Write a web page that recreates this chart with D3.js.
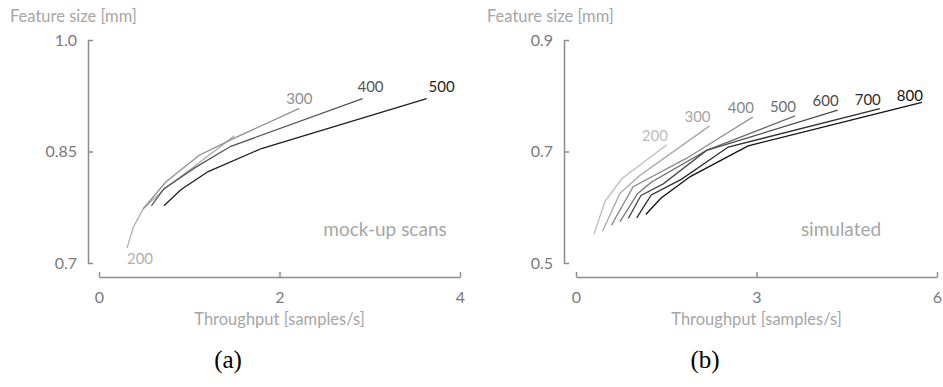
<!DOCTYPE html>
<html>
<head>
<meta charset="utf-8">
<script src="https://cdn.jsdelivr.net/npm/d3@7"></script>
<style>
  body { margin: 0; background: #fff; }
  svg { display: block; font-family: Lato, "Open Sans", sans-serif; }
</style>
</head>
<body>
<div id="chart"></div>
<script>
// panel (a): mock-up scans
const seriesA = ["200", "300", "400", "500"];
const xA = [
  [0.31, 0.38, 0.49, 0.73, 1.50],
  [0.49, 0.74, 1.11, 1.50, 2.22],
  [0.58, 0.72, 1.06, 1.46, 2.92],
  [0.72, 0.91, 1.21, 1.80, 3.63]
];
const yA = [
  [0.720, 0.748, 0.773, 0.800, 0.871],
  [0.773, 0.809, 0.845, 0.868, 0.908],
  [0.777, 0.800, 0.828, 0.857, 0.921],
  [0.777, 0.799, 0.823, 0.854, 0.921]
];
const xTicksA = [0, 2, 4];
const yTicksA = [0.7, 0.85, 1.0];
const yTickLabelsA = ["0.7", "0.85", "1.0"];

// panel (b): simulated
const seriesB = ["200", "300", "400", "500", "600", "700", "800"];
const xB = [
  [0.30, 0.48, 0.76, 1.51],
  [0.44, 0.73, 1.06, 2.22],
  [0.59, 0.95, 1.84, 2.94],
  [0.73, 1.02, 1.25, 2.17, 3.64],
  [0.87, 1.08, 1.45, 2.17, 4.35],
  [1.01, 1.25, 1.75, 2.53, 5.05],
  [1.16, 1.41, 1.90, 2.86, 5.75]
];
const yB = [
  [0.552, 0.610, 0.651, 0.712],
  [0.557, 0.625, 0.657, 0.746],
  [0.568, 0.637, 0.688, 0.762],
  [0.574, 0.624, 0.645, 0.702, 0.764],
  [0.580, 0.621, 0.642, 0.702, 0.774],
  [0.581, 0.622, 0.650, 0.708, 0.777],
  [0.587, 0.616, 0.655, 0.710, 0.788]
];
const xTicksB = [0, 3, 6];
const yTicksB = [0.5, 0.7, 0.9];
const yTickLabelsB = ["0.5", "0.7", "0.9"];

// styling
const colorsA = ["#b0b0b0", "#8f8f8f", "#555555", "#1e1e1e"];
const colorsB = ["#bdbdbd", "#a6a6a6", "#8a8a8a", "#6e6e6e", "#4a4a4a", "#2e2e2e", "#111111"];
// label offsets from the last point of each line (anchor, dx, dy); 200 in (a) sits at the start
const labelA = [
  {at: "start", anchor: "start", dx: 0, dy: 16},
  {at: "end", anchor: "middle", dx: 0, dy: -4},
  {at: "end", anchor: "middle", dx: 8, dy: -7},
  {at: "end", anchor: "middle", dx: 15, dy: -7}
];
const labelB = seriesB.map((s, i) => ({at: "end", anchor: "end", dx: 1, dy: i == 6 ? -1 : -4}));

const W = 943, H = 387;
const svg = d3.select("#chart").append("svg")
    .attr("width", W)
    .attr("height", H);

function panel(opt) {
    const x = d3.scaleLinear().domain(opt.xDomain).range(opt.xRange);
    const y = d3.scaleLinear().domain(opt.yDomain).range([263, 40]);
    const g = svg.append("g");

    // y axis, ticks pointing inward
    const yAxis = g.append("g")
        .attr("transform", "translate(" + opt.yAxisX + ",0)")
        .call(d3.axisLeft(y)
            .tickValues(opt.yTicks)
            .tickFormat((d, i) => opt.yLabels[i])
            .tickSizeInner(-5)
            .tickSizeOuter(0)
            .tickPadding(11));

    // x axis, ticks pointing up
    const xAxis = g.append("g")
        .attr("transform", "translate(0,277)")
        .call(d3.axisBottom(x)
            .tickValues(opt.xTicks)
            .tickFormat(d3.format("d"))
            .tickSizeInner(-5)
            .tickSizeOuter(0)
            .tickPadding(15));

    [yAxis, xAxis].forEach(a => {
        a.select(".domain").attr("stroke", "#8c8c8c").attr("stroke-width", 1.5);
        a.selectAll(".tick line").attr("stroke", "#8c8c8c").attr("stroke-width", 1.5);
        a.selectAll(".tick text")
            .attr("fill", "#7a7a7a")
            .style("font-family", "Lato, sans-serif")
            .style("font-size", "16px");
    });

    // axis titles
    g.append("text")
        .attr("x", opt.yTitleX)
        .attr("y", 22)
        .attr("fill", "#a6a6a6")
        .style("font-size", "16.5px")
        .text("Feature size [mm]");

    g.append("text")
        .attr("x", x(opt.xTicks[1]))
        .attr("y", 325)
        .attr("text-anchor", "middle")
        .attr("fill", "#a6a6a6")
        .style("font-size", "16.5px")
        .text("Throughput [samples/s]");

    const line = d3.line()
        .x(d => x(d[0]))
        .y(d => y(d[1]));

    opt.names.forEach((name, i) => {
        const pts = opt.xs[i].map((v, j) => [v, opt.ys[i][j]]);
        g.append("path")
            .datum(pts)
            .attr("fill", "none")
            .attr("stroke", opt.colors[i])
            .attr("stroke-width", 1.3)
            .attr("d", line);

        const lab = opt.labels[i];
        const p = lab.at == "start" ? pts[0] : pts[pts.length - 1];
        g.append("text")
            .attr("x", x(p[0]) + lab.dx)
            .attr("y", y(p[1]) + lab.dy)
            .attr("text-anchor", lab.anchor)
            .attr("fill", opt.colors[i])
            .style("font-size", "15px")
            .text(name);
    });

    // panel note
    g.append("text")
        .attr("x", opt.noteX)
        .attr("y", 236)
        .attr("text-anchor", "middle")
        .attr("fill", "#a6a6a6")
        .style("font-size", "19px")
        .text(opt.note);

    // caption
    g.append("text")
        .attr("x", opt.capX)
        .attr("y", 368)
        .attr("text-anchor", "middle")
        .attr("fill", "#000")
        .style("font-family", "'Liberation Serif', 'DejaVu Serif', serif")
        .style("font-size", "25px")
        .text(opt.caption);
}

panel({
    xDomain: [0, 4], xRange: [99, 460], yDomain: [0.7, 1.0],
    yAxisX: 88, yTitleX: 10,
    xTicks: xTicksA, yTicks: yTicksA, yLabels: yTickLabelsA,
    names: seriesA, xs: xA, ys: yA, colors: colorsA, labels: labelA,
    note: "mock-up scans", noteX: 385, caption: "(a)", capX: 228
});

panel({
    xDomain: [0, 6], xRange: [576, 937], yDomain: [0.5, 0.9],
    yAxisX: 564, yTitleX: 487,
    xTicks: xTicksB, yTicks: yTicksB, yLabels: yTickLabelsB,
    names: seriesB, xs: xB, ys: yB, colors: colorsB, labels: labelB,
    note: "simulated", noteX: 841, caption: "(b)", capX: 705
});
</script>
</body>
</html>
